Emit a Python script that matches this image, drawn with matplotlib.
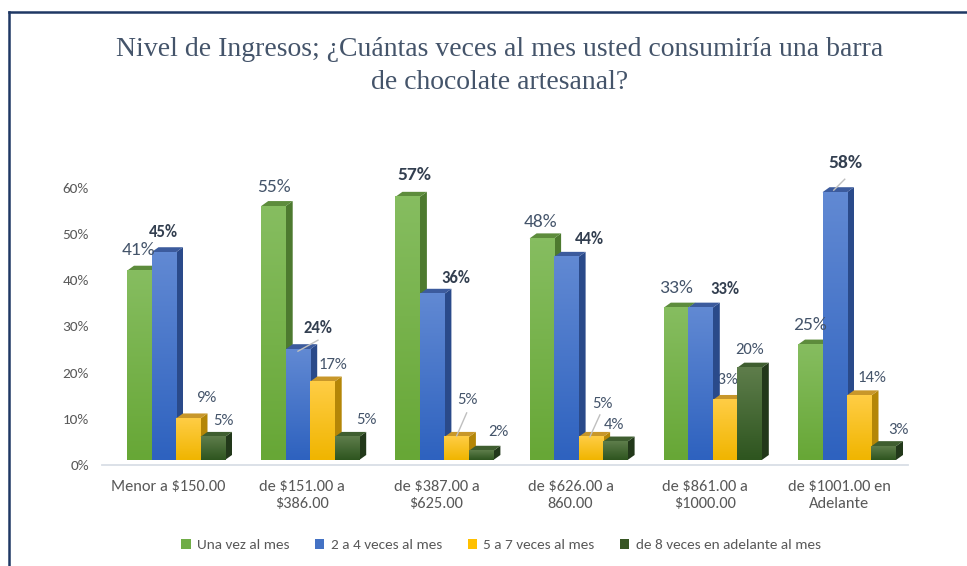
import numpy as np
import matplotlib.pyplot as plt
from matplotlib import font_manager
from matplotlib.patches import Polygon, Patch
from matplotlib.colors import LinearSegmentedColormap
from matplotlib.lines import Line2D

# ---- data ----
categories = ['Menor a $150.00', 'de $151.00 a\n$386.00', 'de $387.00 a\n$625.00',
              'de $626.00 a\n860.00', 'de $861.00 a\n$1000.00', 'de $1001.00 en\nAdelante']
series_names = ['Una vez al mes', '2 a 4 veces al mes', '5 a 7 veces al mes',
                'de 8 veces en adelante al mes']
una_vez = [41, 55, 57, 48, 33, 25]
dos_a_cuatro = [45, 24, 36, 44, 33, 58]
cinco_a_siete = [9, 17, 5, 5, 13, 14]
ocho_o_mas = [5, 5, 2, 4, 20, 3]
yticks = [0, 10, 20, 30, 40, 50, 60]

values = [una_vez, dos_a_cuatro, cinco_a_siete, ocho_o_mas]

# ---- styles ----
# (front top, front bottom, side, top face)
bar_colors = [
    ('#86bd60', '#67a736', '#4d7a2f', '#5d8c3c'),
    ('#6189d3', '#2e62bf', '#2a4a8a', '#3c5b9d'),
    ('#ffcd45', '#f0b500', '#b48607', '#c8972a'),
    ('#5e7d4b', '#2e551f', '#22381a', '#3f5e30'),
]
legend_colors = ['#70ad47', '#4472c4', '#ffc000', '#375623']

PX_X = 134.2      # pixels per category
PX_Y = 4.617      # pixels per percent
BAR_W = 24.5 / PX_X
DEPTH_X = 7 / PX_X
DEPTH_Y = 5 / PX_Y
FLOOR = 10 / PX_Y  # back plane of bars sits above the axis line

# label offsets in pixels relative to bar front centre / back top
lbl_dx = [[-1, 0, 18, 11], [0, 20, 10, 19], [7, 24, 11, 17],
          [-1, 23, 12, -1], [0, 24, -1, 0], [0, 11, 13, 15]]
lbl_dy = [[15.5, 15, 15, 11], [14, 16, 12, 12], [17, 11, 32, 14],
          [11, 13, 28, 12], [15, 14, 15, 13], [15, 24, 12, 11]]
leaders = {(1, 1): ((0, -12), (-20, -23)), (5, 1): ((-1, -16), (-12, -27)),
           (2, 2): ((-1, -13), (-11, -36)), (3, 2): ((-3, -11), (-13, -33))}
big_bold = {(2, 0), (5, 1)}
hidden_label = {(4, 2)}


def pick(*names):
    have = {f.name for f in font_manager.fontManager.ttflist}
    return [n for n in names if n in have] + ['DejaVu Sans']


sans = pick('Carlito', 'Liberation Sans Narrow', 'Open Sans', 'Liberation Sans')
serif = pick('Liberation Serif', 'DejaVu Serif')
plt.rcParams['font.family'] = sans

fig = plt.figure(figsize=(9.67, 5.66), dpi=100)
ax = fig.add_axes([102 / 967, 1 - 465 / 566, 806 / 967, 65 * PX_Y / 566])
ax.set_xlim(-74 / PX_X, 732 / PX_X)
ax.set_ylim(0, 65)


def draw_bar(x0, v, j, z):
    ftop, fbot, side_c, top_c = bar_colors[j]
    yb = FLOOR - DEPTH_Y
    yt = FLOOR + v - DEPTH_Y
    side = Polygon([(x0 + BAR_W, yb), (x0 + BAR_W + DEPTH_X, yb + DEPTH_Y),
                    (x0 + BAR_W + DEPTH_X, yt + DEPTH_Y), (x0 + BAR_W, yt)],
                   closed=True, facecolor=side_c, edgecolor='none', zorder=z)
    top = Polygon([(x0, yt), (x0 + DEPTH_X, yt + DEPTH_Y),
                   (x0 + BAR_W + DEPTH_X, yt + DEPTH_Y), (x0 + BAR_W, yt)],
                  closed=True, facecolor=top_c, edgecolor='none', zorder=z)
    ax.add_patch(side)
    ax.add_patch(top)
    cmap = LinearSegmentedColormap.from_list('g', [fbot, ftop])
    ax.imshow(np.linspace(0, 1, 64).reshape(-1, 1), extent=(x0, x0 + BAR_W, yb, yt),
              origin='lower', cmap=cmap, aspect='auto', interpolation='bilinear', zorder=z)


for i in range(len(categories)):
    for j in range(4):
        v = values[j][i]
        x0 = i - 2 * BAR_W + j * BAR_W
        draw_bar(x0, v, j, 2 + j * 0.1)
        cx = x0 + BAR_W / 2
        top_y = FLOOR + v
        lx = cx + lbl_dx[i][j] / PX_X
        ly = top_y + lbl_dy[i][j] / PX_Y
        if (i, j) in big_bold:
            fs, fw, col = 14, 'bold', '#333f50'
        elif j == 0:
            fs, fw, col = 14, 'normal', '#44546a'
        elif j == 1:
            fs, fw, col = 12, 'bold', '#333f50'
        else:
            fs, fw, col = 12, 'normal', '#44546a'
        z = 1.5 if (i, j) in hidden_label else 5
        ax.text(lx, ly, f'{v}%', ha='center', va='center', fontsize=fs,
                fontweight=fw, color=col, zorder=z)
        if (i, j) in leaders:
            (ax1, ay1), (ax2, ay2) = leaders[(i, j)]
            ax.add_line(Line2D([lx + ax1 / PX_X, lx + ax2 / PX_X],
                               [ly + ay1 / PX_Y, ly + ay2 / PX_Y],
                               color='#bfbfbf', lw=1, zorder=6))

ax.set_yticks(yticks)
ax.set_yticklabels([f'{t}%' for t in yticks])
ax.set_xticks(np.arange(len(categories)) - 8 / PX_X)
ax.set_xticklabels(categories, linespacing=1.3)
ax.tick_params(axis='y', length=0, pad=9.5, labelsize=11, labelcolor='#595959')
ax.tick_params(axis='x', length=0, pad=10.5, labelsize=11.8, labelcolor='#595959')
for s in ['top', 'right', 'left']:
    ax.spines[s].set_visible(False)
ax.spines['bottom'].set_color('#d9dee6')
ax.spines['bottom'].set_linewidth(1.3)

fig.text(500 / 967, 1 - 66 / 566,
         'Nivel de Ingresos; ¿Cuántas veces al mes usted consumiría una barra\nde chocolate artesanal?',
         ha='center', va='center', fontsize=20, color='#44546a', family=serif,
         linespacing=1.45)

handles = [Patch(facecolor=c, edgecolor='none') for c in legend_colors]
fig.legend(handles, series_names, loc='center', bbox_to_anchor=(501 / 967, 1 - 545 / 566),
           ncol=4, frameon=False, fontsize=11, labelcolor='#595959',
           handlelength=0.6, handleheight=0.6, handletextpad=0.4, columnspacing=1.7)

# chart frame (top and left edges)
fig.add_artist(Line2D([9 / 967, 9 / 967], [0, 1 - 12 / 566], transform=fig.transFigure,
                      color='#1f3864', lw=1.8))
fig.add_artist(Line2D([9 / 967, 1], [1 - 12 / 566, 1 - 12 / 566], transform=fig.transFigure,
                      color='#1f3864', lw=1.8))

fig.savefig('out.png', dpi=100)
